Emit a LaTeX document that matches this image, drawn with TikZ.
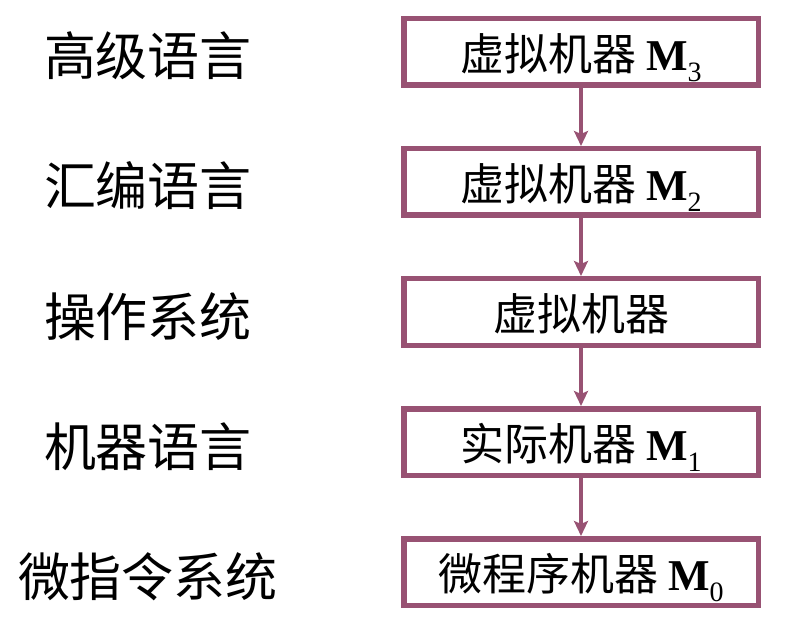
\documentclass[tikz,border=0pt]{standalone}
\usepackage{fontspec}
\setmainfont{Noto Sans CJK SC}
\newfontfamily\tnr{Liberation Serif}
\usepackage{xcolor}
\usetikzlibrary{arrows.meta,positioning}
\definecolor{boxline}{RGB}{152,82,115}
\newcommand{\mach}[1]{{\tnr\bfseries M}\raisebox{-0.26em}{\tnr\fontsize{28}{28}\selectfont #1}}

\begin{document}
\begin{tikzpicture}[
  x=1pt, y=-1pt,
  node distance=58pt,
  box/.style={draw=boxline, line width=5.5pt, minimum width=354.5pt, minimum height=66.5pt, inner sep=0pt, text height=37pt, text depth=0pt, font=\fontsize{44}{50}\selectfont},
  lbl/.style={inner sep=0pt, text height=48pt, text depth=0pt, font=\fontsize{52}{58}\selectfont},
  arr/.style={-{Stealth[length=15pt,width=14pt,inset=3pt]}, line width=4pt, draw=boxline}
]
\useasboundingbox (0,0) rectangle (807,623);
\node[box] (m3) at (581,52) {虚拟机器 \mach{3}};
\node[box, below=of m3] (m2) {虚拟机器 \mach{2}};
\node[box, below=of m2] (os) {虚拟机器};
\node[box, below=of os] (m1) {实际机器 \mach{1}};
\node[box, below=of m1] (m0) {微程序机器 \mach{0}};
\node[lbl] (high) at (148,0 |- m3) {高级语言};
\node[lbl] (asm) at (148,0 |- m2) {汇编语言};
\node[lbl] (sys) at (148,0 |- os) {操作系统};
\node[lbl] (mlang) at (148,0 |- m1) {机器语言};
\node[lbl] (micro) at (148,0 |- m0) {微指令系统};
\draw[arr] (m3) -- (m2);
\draw[arr] (m2) -- (os);
\draw[arr] (os) -- (m1);
\draw[arr] (m1) -- (m0);
\end{tikzpicture}
\end{document}
